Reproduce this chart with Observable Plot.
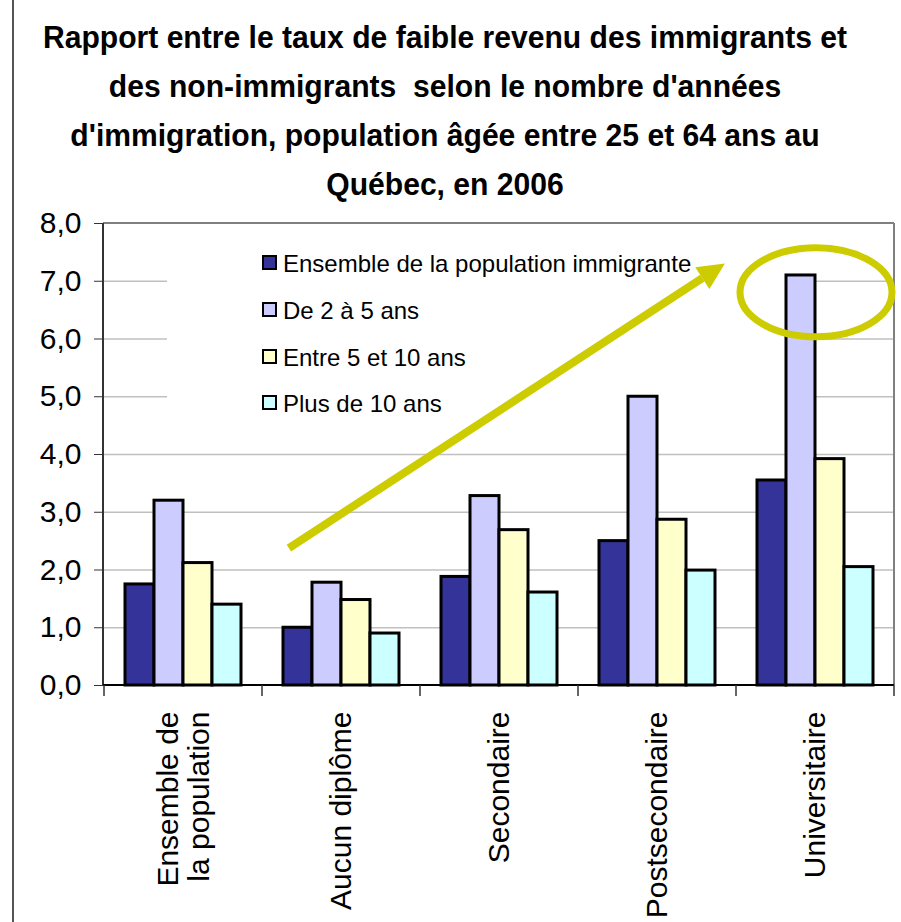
<!DOCTYPE html>
<html><head><meta charset="utf-8">
<script src="https://cdn.jsdelivr.net/npm/d3@7"></script>
<script src="https://cdn.jsdelivr.net/npm/@observablehq/plot@0.6"></script>
<style>
body{margin:0;background:#fff;font-family:"Liberation Sans",Arial,sans-serif;}
#wrap{position:relative;width:901px;height:922px;overflow:hidden;background:#fff;}
#frame{position:absolute;left:12px;top:0;width:2px;height:922px;background:#555;z-index:5;}
#title{position:absolute;left:0;top:13px;width:890px;text-align:center;font-weight:bold;font-size:32px;line-height:49px;color:#000;transform:scaleX(0.94);transform-origin:445px 0;white-space:nowrap;}
#chart{position:absolute;left:0;top:200px;}
</style></head><body>
<div id="wrap">
<div id="title">Rapport entre le taux de faible revenu des immigrants et<br>des non-immigrants&nbsp; selon le nombre d'années<br>d'immigration, population âgée entre 25 et 64 ans au<br>Québec, en 2006</div>
<div id="chart"></div>
<div id="frame"></div>
</div>
<script>
const categories = ["Ensemble de\nla population", "Aucun diplôme", "Secondaire", "Postsecondaire", "Universitaire"];
const series = ["Ensemble de la population immigrante", "De 2 à 5 ans", "Entre 5 et 10 ans", "Plus de 10 ans"];
const ensembleImmigrante = [1.75, 1.0, 1.88, 2.5, 3.55];
const de2a5 = [3.2, 1.78, 3.28, 5.0, 7.1];
const entre5et10 = [2.12, 1.48, 2.69, 2.87, 3.92];
const plusDe10 = [1.4, 0.9, 1.61, 1.99, 2.05];
const seriesColors = ["#333399", "#CCCCFF", "#FFFFCC", "#CCFFFF"];
const yTicks = [0, 1, 2, 3, 4, 5, 6, 7, 8];
const gridTicks = [1, 2, 3, 4, 5, 6, 7];

(function () {
const valuesBySeries = [ensembleImmigrante, de2a5, entre5et10, plusDe10];
const table = [];
categories.forEach((c, i) => series.forEach((s, j) => table.push({category: c, series: s, value: valuesBySeries[j][i]})));

const W = 901, H = 722, mT = 23, mB = 237, mL = 103, mR = 7;

const plot = Plot.plot({
  width: W, height: H,
  marginTop: mT, marginBottom: mB, marginLeft: mL, marginRight: mR,
  style: {fontFamily: "'Liberation Sans', Arial, sans-serif", background: "transparent", color: "black", overflow: "visible"},
  fx: {domain: categories, paddingInner: 0, paddingOuter: 0, axis: null, label: null},
  x: {domain: series, paddingInner: 0, paddingOuter: 0.7, axis: null},
  y: {domain: [0, 8], axis: null},
  color: {domain: series, range: seriesColors},
  marks: [
    Plot.gridY(gridTicks, {stroke: "#c0c0c0", strokeOpacity: 1, strokeWidth: 1.5}),
    Plot.barY(table, {fx: "category", x: "series", y: "value", fill: "series", stroke: "black", strokeWidth: 3}),
    Plot.axisY({ticks: yTicks, tickFormat: d => d.toFixed(1).replace(".", ","), tickSize: 10, tickPadding: 13, fontSize: 30, label: null, stroke: "#333"}),
    Plot.text(categories, {fx: d => d, text: d => d, frameAnchor: "bottom", dy: 26, rotate: -90, textAnchor: "end", lineAnchor: "middle", fontSize: 30, lineHeight: 1.02, fill: "black"})
  ]
});

document.getElementById("chart").appendChild(plot);

const svg = d3.select(plot);
const fx = plot.scale("fx");
const y = plot.scale("y");
const color = plot.scale("color");
const bw = fx.bandwidth;
const yPix = v => y.apply(v);
const pLeft = mL, pRight = W - mR, pTop = mT, pBottom = H - mB;

// Legend white box (under bars, above grid)
const barG = plot.querySelector('g[aria-label="bar"]');
const lgBox = document.createElementNS("http://www.w3.org/2000/svg", "rect");
lgBox.setAttribute("x", 167); lgBox.setAttribute("y", 28);
lgBox.setAttribute("width", 618); lgBox.setAttribute("height", 212);
lgBox.setAttribute("fill", "white");
if (barG) barG.parentNode.insertBefore(lgBox, barG); else plot.appendChild(lgBox);

// Plot area borders
svg.append("line").attr("x1", pLeft).attr("x2", pRight).attr("y1", pTop).attr("y2", pTop).attr("stroke", "#808080").attr("stroke-width", 2);
svg.append("line").attr("x1", pRight).attr("x2", pRight).attr("y1", pTop).attr("y2", pBottom).attr("stroke", "#808080").attr("stroke-width", 2);
svg.append("line").attr("x1", pLeft).attr("x2", pLeft).attr("y1", pTop).attr("y2", pBottom + 1).attr("stroke", "#333").attr("stroke-width", 2);
svg.append("line").attr("x1", pLeft).attr("x2", pRight).attr("y1", pBottom).attr("y2", pBottom).attr("stroke", "black").attr("stroke-width", 2);
// category boundary ticks
const bounds = categories.map(c => fx.apply(c)).concat([fx.apply(categories[categories.length - 1]) + bw]);
svg.append("g").selectAll("line").data(bounds).join("line")
  .attr("x1", d => d).attr("x2", d => d).attr("y1", pBottom).attr("y2", pBottom + 11)
  .attr("stroke", "#333").attr("stroke-width", 1.5);

// Arrow annotation
const ax1 = fx.apply(categories[1]) + 0.17 * bw, ay1 = yPix(2.37);
const ax2 = fx.apply(categories[3]) + 0.93 * bw, ay2 = yPix(7.3);
const ang = Math.atan2(ay2 - ay1, ax2 - ax1);
const hl = 27, hw = 13;
const bx = ax2 - hl * Math.cos(ang), by = ay2 - hl * Math.sin(ang);
const ann = svg.append("g");
ann.append("line").attr("x1", ax1).attr("y1", ay1).attr("x2", bx).attr("y2", by)
  .attr("stroke", "#CCCC00").attr("stroke-width", 8);
ann.append("polygon").attr("points", [
  [ax2, ay2],
  [bx + hw * Math.sin(ang), by - hw * Math.cos(ang)],
  [bx - hw * Math.sin(ang), by + hw * Math.cos(ang)]
].map(p => p.join(",")).join(" ")).attr("fill", "#CCCC00");
// Ellipse around the highest bar
ann.append("ellipse")
  .attr("cx", fx.apply(categories[4]) + bw / 2 + 1).attr("cy", yPix(6.8))
  .attr("rx", 76).attr("ry", 44.5)
  .attr("fill", "none").attr("stroke", "#CCCC00").attr("stroke-width", 7);

// Legend
const lg = svg.append("g").attr("font-family", "'Liberation Sans', Arial, sans-serif").attr("text-anchor", "start");
const rowY = [63, 110, 157, 203];
series.forEach((s, i) => {
  lg.append("rect").attr("x", 263).attr("y", rowY[i] - 7).attr("width", 13).attr("height", 13)
    .attr("fill", color.apply(s)).attr("stroke", "black").attr("stroke-width", 2);
  lg.append("text").attr("x", 283).attr("y", rowY[i] + 8.5).attr("font-size", 24).attr("fill", "black").attr("text-anchor", "start").text(s);
});
})();
</script>
</body></html>
